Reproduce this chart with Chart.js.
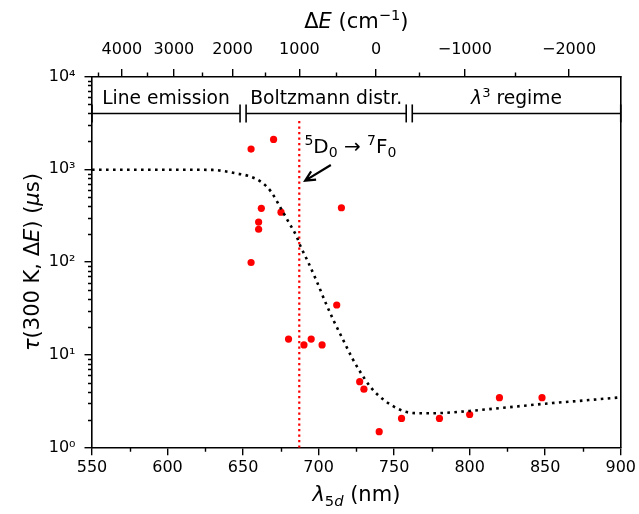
<!DOCTYPE html>
<html>
<head>
<meta charset="utf-8">
<title>Lifetime vs 5d wavelength</title>
<script src="https://cdn.jsdelivr.net/npm/chart.js@4.4.1/dist/chart.umd.min.js"></script>
<style>
  html, body { margin: 0; padding: 0; background: #fff; }
  #tau_chart { display: block; }
</style>
</head>
<body>
<canvas id="tau_chart" width="639" height="514"></canvas>
<script>
// measured lifetimes at 300 K
const lambdaMeasured = [655.3, 670.2, 662.1, 675.1, 660.3, 660.3, 655.3, 715.1, 712.0, 680.1, 690.3,
                        695.1, 702.3, 727.2, 730.0, 740.1, 754.9, 780.0, 800.0, 819.7, 847.9];
const tauMeasured = [1650, 2100, 380, 345, 270, 226, 99, 385, 34.5, 14.8, 12.8,
                     14.8, 12.8, 5.15, 4.27, 1.49, 2.07, 2.07, 2.28, 3.46, 3.46];

// model curve
const lambdaModel = [550, 600, 630, 640, 646.5, 653, 662, 668.5, 675, 680.6, 685, 688.3, 692.7, 698.6,
                     704.8, 710.3, 715.7, 722.3, 726.7, 734.5, 741.1, 748.7, 757.5, 768.5, 780, 800,
                     825, 850, 875, 900];
const tauModel = [990, 990, 985, 940, 897, 853, 730, 574, 380, 262, 196, 145, 103, 63,
                  36, 22.8, 15.1, 9.2, 6.9, 4.48, 3.49, 2.84, 2.44, 2.35, 2.36, 2.49,
                  2.72, 2.98, 3.22, 3.49];

// 5D0 -> 7F0 line
const lambdaLine = 687.2;
const tauLineTop = 3500;

// regimes
const regionNames = ['Line emission', 'Boltzmann distr.', 'λ3 regime'];
const regionStart = [550, 652, 762];
const regionEnd = [648, 758, 900];
const regionLevel = 4000;
const regionLabelLevel = 5000;

// axes
const xTicks = [550, 600, 650, 700, 750, 800, 850, 900];
const yTicks = [1, 10, 100, 1000, 10000];
const yTickLabels = ['10⁰', '10¹', '10²', '10³', '10⁴'];
const deltaETicks = [4000, 3000, 2000, 1000, 0, -1000, -2000];
const deltaEMinor = [4500, 3500, 2500, 1500, 500, -500, -1500];
const refEnergy = 13550; // cm^-1, zero of the top axis

// arrow for the annotation (tail, head) and text anchor
const arrowTail = [708.1, 1112];
const arrowHead = [691.1, 754];
const noteAnchor = [690.6, 1500];

const FONT = '"DejaVu Sans", sans-serif';

function lambdaFromDeltaE(e) {
  return 1e7 / (refEnergy + e);
}
function fmtSigned(v) {
  return v < 0 ? '−' + Math.abs(v) : String(v);
}

// text with italic / sub / sup pieces
function pieceFont(p, size) {
  const small = (p[1] || '').match(/sup|sub/) ? 0.7 : 1;
  const it = (p[1] || '').indexOf('i') === 0 ? 'italic ' : '';
  return it + (size * small) + 'px ' + FONT;
}
function drawRich(ctx, parts, x, y, size, align) {
  const widths = parts.map(p => { ctx.font = pieceFont(p, size); return ctx.measureText(p[0]).width; });
  const total = widths.reduce((a, b) => a + b, 0);
  let cx = align === 'center' ? x - total / 2 : x;
  ctx.textAlign = 'left';
  ctx.textBaseline = 'alphabetic';
  parts.forEach((p, i) => {
    const st = p[1] || '';
    let dy = 0;
    if (st.indexOf('sup') >= 0) dy = -0.4 * size;
    if (st.indexOf('sub') >= 0) dy = 0.22 * size;
    ctx.font = pieceFont(p, size);
    ctx.fillText(p[0], cx, y + dy);
    cx += widths[i];
  });
}

const extras = {
  id: 'extras',
  afterDatasetsDraw(chart) {
    const ctx = chart.ctx;
    const xs = chart.scales.x, ys = chart.scales.y;
    ctx.save();
    ctx.fillStyle = '#000';

    // regime labels, centred on each range
    regionNames.forEach((name, i) => {
      const cx = xs.getPixelForValue((regionStart[i] + regionEnd[i]) / 2);
      const cy = ys.getPixelForValue(regionLabelLevel);
      if (name.startsWith('λ')) {
        drawRich(ctx, [['λ', 'i'], ['3', 'sup'], [' regime']], cx, cy, 18.7, 'center');
      } else {
        drawRich(ctx, [[name]], cx, cy, 18.7, 'center');
      }
    });

    // annotation
    drawRich(ctx, [['5', 'sup'], ['D'], ['0', 'sub'], [' → '], ['7', 'sup'], ['F'], ['0', 'sub']],
      xs.getPixelForValue(noteAnchor[0]), ys.getPixelForValue(noteAnchor[1]), 20, 'left');

    const tx = xs.getPixelForValue(arrowTail[0]), ty = ys.getPixelForValue(arrowTail[1]);
    const hx = xs.getPixelForValue(arrowHead[0]), hy = ys.getPixelForValue(arrowHead[1]);
    const ang = Math.atan2(hy - ty, hx - tx);
    ctx.strokeStyle = '#000';
    ctx.lineWidth = 2.2;
    ctx.lineCap = 'butt';
    ctx.beginPath();
    ctx.moveTo(tx, ty);
    ctx.lineTo(hx, hy);
    ctx.moveTo(hx - 11 * Math.cos(ang - 0.45), hy - 11 * Math.sin(ang - 0.45));
    ctx.lineTo(hx, hy);
    ctx.lineTo(hx - 11 * Math.cos(ang + 0.45), hy - 11 * Math.sin(ang + 0.45));
    ctx.stroke();
    ctx.restore();
  },
  afterDraw(chart) {
    const ctx = chart.ctx;
    const xs = chart.scales.x, ys = chart.scales.y;
    const area = chart.chartArea;
    ctx.save();
    ctx.strokeStyle = '#000';
    ctx.lineWidth = 1.4;

    // minor ticks
    ctx.beginPath();
    for (let v = 575; v < 900; v += 50) {
      const px = Math.round(xs.getPixelForValue(v)) + 0.5;
      ctx.moveTo(px, area.bottom);
      ctx.lineTo(px, area.bottom + 4);
    }
    deltaEMinor.forEach(e => {
      const l = lambdaFromDeltaE(e);
      if (l < 550 || l > 900) return;
      const px = Math.round(xs.getPixelForValue(l)) + 0.5;
      ctx.moveTo(px, area.top);
      ctx.lineTo(px, area.top - 4);
    });
    for (let d = 1; d < 10000; d *= 10) {
      for (let m = 2; m < 10; m++) {
        const py = Math.round(ys.getPixelForValue(m * d)) + 0.5;
        ctx.moveTo(area.left, py);
        ctx.lineTo(area.left - 4, py);
      }
    }
    ctx.stroke();

    // axis titles
    ctx.fillStyle = '#000';
    const midX = (area.left + area.right) / 2;
    drawRich(ctx, [['λ', 'i'], ['5', 'sub'], ['d', 'isub'], [' (nm)']], midX, 501, 21, 'center');
    drawRich(ctx, [['Δ'], ['E', 'i'], [' (cm'], ['−1', 'sup'], [')']], midX, 28, 21, 'center');
    ctx.save();
    ctx.translate(39, (area.top + area.bottom) / 2);
    ctx.rotate(-Math.PI / 2);
    drawRich(ctx, [['τ', 'i'], ['(300 K, Δ'], ['E', 'i'], [') ('], ['μ', 'i'], ['s)']], 0, 0, 21, 'center');
    ctx.restore();
    ctx.restore();
  }
};

Chart.defaults.font.family = FONT;
Chart.defaults.font.size = 16;
Chart.defaults.color = '#000';

const axisGrid = { drawOnChartArea: false, drawTicks: true, tickLength: 7.5, lineWidth: 1.4, color: '#000' };
const axisBorder = { display: true, color: '#000', width: 1.6 };

const datasets = [
  {
    label: 'model',
    type: 'line',
    data: lambdaModel.map((l, i) => ({ x: l, y: tauModel[i] })),
    borderColor: '#000',
    borderWidth: 2.6,
    borderDash: [2.6, 4.4],
    cubicInterpolationMode: 'monotone',
    pointRadius: 0,
    fill: false,
    order: 0
  },
  {
    label: 'measured',
    type: 'scatter',
    data: lambdaMeasured.map((l, i) => ({ x: l, y: tauMeasured[i] })),
    backgroundColor: '#ff0000',
    borderWidth: 0,
    pointRadius: 3.6,
    order: 2
  },
  {
    label: '5D0-7F0',
    type: 'line',
    data: [{ x: lambdaLine, y: 1 }, { x: lambdaLine, y: tauLineTop }],
    borderColor: '#ff0000',
    borderWidth: 2.2,
    borderDash: [2.2, 3.3],
    pointRadius: 0,
    fill: false,
    order: 1
  }
];

// regime brackets with end caps
regionStart.forEach((s, i) => {
  datasets.push({
    label: regionNames[i],
    type: 'line',
    data: [{ x: s, y: regionLevel }, { x: regionEnd[i], y: regionLevel }],
    borderColor: '#000',
    borderWidth: 1.6,
    pointStyle: 'line',
    rotation: 90,
    pointRadius: 9,
    pointBorderWidth: 1.6,
    pointBorderColor: '#000',
    fill: false,
    clip: false,
    order: 1
  });
});

const tauChart = new Chart(document.getElementById('tau_chart'), {
  type: 'scatter',
  data: { datasets },
  options: {
    responsive: false,
    animation: false,
    devicePixelRatio: 1,
    layout: { padding: 0 },
    plugins: { legend: { display: false }, tooltip: { enabled: false } },
    scales: {
      x: {
        type: 'linear', position: 'bottom', min: 550, max: 900,
        afterBuildTicks: s => { s.ticks = xTicks.map(v => ({ value: v })); },
        afterFit: s => { s.height = 66.3; },
        ticks: { autoSkip: false, maxRotation: 0, padding: 3 },
        grid: axisGrid, border: axisBorder
      },
      xTop: {
        type: 'linear', position: 'top', min: 550, max: 900,
        afterBuildTicks: s => { s.ticks = deltaETicks.map(e => ({ value: lambdaFromDeltaE(e) })); },
        afterFit: s => { s.height = 76.5; },
        ticks: { autoSkip: false, maxRotation: 0, padding: 10, callback: (v, i) => fmtSigned(deltaETicks[i]) },
        grid: axisGrid, border: axisBorder
      },
      y: {
        type: 'logarithmic', position: 'left', min: 1, max: 10000,
        afterBuildTicks: s => { s.ticks = yTicks.map(v => ({ value: v })); },
        afterFit: s => { s.width = 92; },
        ticks: { autoSkip: false, padding: 9, callback: (v, i) => yTickLabels[i] },
        grid: axisGrid, border: axisBorder
      },
      yRight: {
        type: 'logarithmic', position: 'right', min: 1, max: 10000,
        afterFit: s => { s.width = 16.3; },
        ticks: { display: false },
        grid: { drawOnChartArea: false, drawTicks: false },
        border: axisBorder
      }
    }
  },
  plugins: [extras]
});
</script>
</body>
</html>
